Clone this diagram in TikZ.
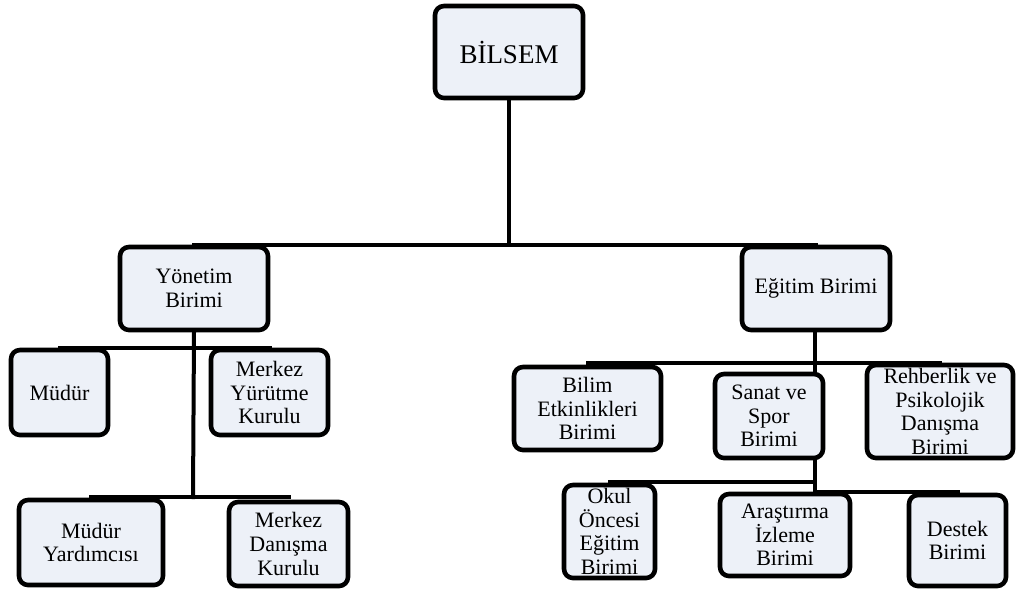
\documentclass[tikz,border=0pt]{standalone}
\usepackage{fontspec}
\setmainfont{Liberation Serif}
\definecolor{boxfill}{HTML}{EDF1F8}
\pgfdeclarelayer{back}
\pgfsetlayers{back, main}
\tikzset{
  unit/.style={draw=black, fill=boxfill, line width=2.3pt, rounded corners=4.5pt, align=center, inner sep=0pt, font=\fontsize{11}{11.8}\selectfont},
  boxsize/.style 2 args={minimum width=#1pt, minimum height=#2pt},
  link/.style={line width=2pt, line cap=rect}
}
\newcommand{\orgboxes}{
\node[unit, boxsize={74}{46}, font=\fontsize{13.5}{15}\selectfont] (bilsem) at (509,52) {BİLSEM};
\node[unit, boxsize={74}{41.5}] (yonetim) at (194,288.5) {Yönetim\\Birimi};
\node[unit, boxsize={74}{41.5}] (egitim) at (816,288.5) {Eğitim Birimi};
\node[unit, boxsize={48.5}{42.5}] (mudur) at (59.5,392.5) {Müdür};
\node[unit, boxsize={58.5}{42.5}] (yurutme) at (269.5,392.5) {Merkez\\Yürütme\\Kurulu};
\node[unit, boxsize={72}{42.5}] (yardimci) at (91,542.5) {Müdür\\Yardımcısı};
\node[unit, boxsize={59.5}{42}] (danisma) at (288.5,544) {Merkez\\Danışma\\Kurulu};
\node[unit, boxsize={73.5}{41.5}] (bilim) at (587.5,408.5) {Bilim\\Etkinlikleri\\Birimi};
\node[unit, boxsize={54}{42}] (sanat) at (769,416) {Sanat ve\\Spor\\Birimi};
\node[unit, boxsize={73}{46.5}] (rehber) at (940,411.5) {Rehberlik ve\\Psikolojik\\Danışma\\Birimi};
\node[unit, boxsize={45.5}{46.5}] (okul) at (609.5,531.5) {Okul\\Öncesi\\Eğitim\\Birimi};
\node[unit, boxsize={65}{41}] (arastirma) at (785,535) {Araştırma\\İzleme\\Birimi};
\node[unit, boxsize={48.5}{45.5}] (destek) at (957.5,540.5) {Destek\\Birimi};
}
\newcommand{\orgbuses}{
\coordinate (ybus) at (193,497);
\coordinate (ebus) at (815,363);
\coordinate (sbus) at (815,482);
}
\newcommand{\orglinks}{
\draw (bilsem.south) -- (bilsem.south |- yonetim.north);
\draw (yonetim.north) -- (egitim.north);
\draw (yonetim.south) -- (ybus);
\draw (mudur.north) -- (yurutme.north);
\draw (yardimci.north |- ybus) -- (danisma.north |- ybus);
\draw (egitim.south -| ebus) -- (sanat.north -| ebus);
\draw (bilim.north |- ebus) -- (rehber.north |- ebus);
\draw (sanat.south -| sbus) -- (arastirma.north -| sbus);
\draw (okul.north |- sbus) -- (sbus);
\draw (arastirma.north -| sbus) -- (destek.north |- arastirma.north);
}

\begin{document}
\begin{tikzpicture}[x=0.5pt, y=-0.5pt]
\useasboundingbox (0,0) rectangle (1017,595);

% bus points
\orgbuses

% boxes
\orgboxes

% links, behind the boxes
\begin{pgfonlayer}{back}
\begin{scope}[link]
\orglinks
\end{scope}
\end{pgfonlayer}
\end{tikzpicture}
\end{document}
